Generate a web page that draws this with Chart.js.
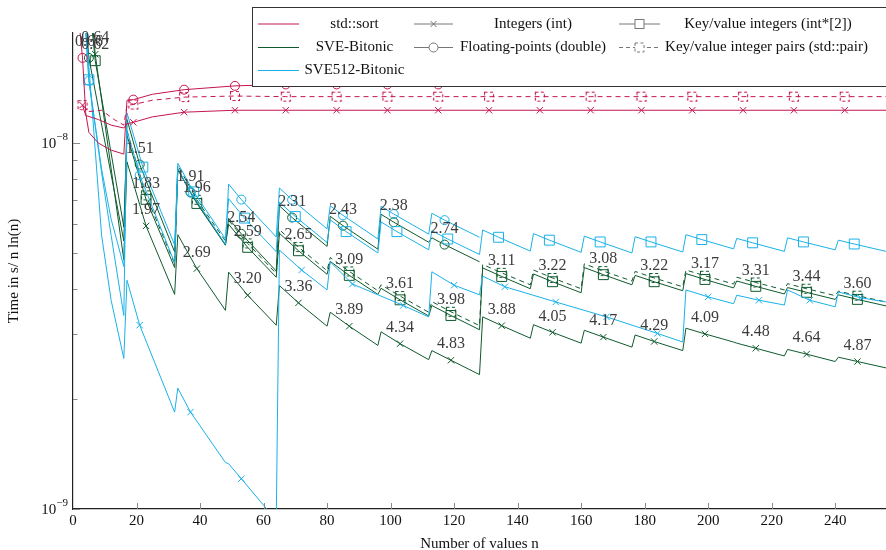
<!DOCTYPE html>
<html>
<head>
<meta charset="utf-8">
<script src="https://cdn.jsdelivr.net/npm/chart.js@4.4.1/dist/chart.umd.min.js"></script>
<style>
  html, body { margin: 0; padding: 0; background: #fff; }
  #wrap { width: 886px; height: 550px; }
</style>
</head>
<body>
<div id="wrap"><canvas id="chart" width="886" height="550"></canvas></div>
<script>
// times are in ns (1e-9 s) per n ln(n); points are [n, time]
const stdInt = [[3,12.7],[4,11.9],[8,11.6],[12,11.2],[16,11.0],[17,11.3],[19,11.4],[25,11.8],[35,12.15],[51,12.3],[67,12.3],[83,12.3],[99,12.3],[115,12.3],[131,12.3],[147,12.3],[163,12.3],[179,12.3],[195,12.3],[211,12.3],[227,12.3],[243,12.3],[256,12.3]];
const stdIntMarks = [3,19,35,51,67,83,99,115,131,147,163,179,195,211,227,243];

const stdDouble = [[2,21],[3,17.1],[4,12.1],[5,10.7],[8,10.0],[12,9.57],[16,9.33],[17,13.1],[19,13.15],[25,13.6],[35,14.0],[51,14.34],[67,14.47],[83,14.47],[99,14.47],[115,14.47],[128,14.47]];
const stdDoubleMarks = [3,19,35,51,67,83,99,115];

const stdPair = [[3,12.7],[5,12.2],[9,12.3],[13,11.6],[16,11.2],[17,12.7],[19,12.75],[25,13.1],[35,13.36],[51,13.45],[67,13.4],[83,13.4],[99,13.4],[115,13.4],[131,13.4],[147,13.4],[163,13.4],[179,13.4],[195,13.4],[211,13.4],[227,13.4],[243,13.4],[256,13.4]];
const stdPairMarks = [3,19,35,51,67,83,99,115,131,147,163,179,195,211,227,243];

const sveInt = [[6,22],[7,17.5],[16,4.8],
  [17,8.89],[23,5.94],[32,3.86],[33,5.62],[39,4.54],[48,3.49],
  [49,4.44],[55,3.84],[64,3.18],[65,4.08],[71,3.66],[80,3.16],
  [81,3.45],[87,3.16],[96,2.80],[97,3.05],[103,2.83],[112,2.56],
  [113,2.71],[119,2.55],[128,2.33],[129,3.35],[135,3.17],[144,2.93],
  [145,3.19],[151,3.04],[160,2.84],[161,3.08],[167,2.95],[176,2.77],
  [177,2.99],[183,2.87],[192,2.71],[193,3.12],[199,3.01],[208,2.86],
  [209,2.84],[215,2.75],[224,2.62],[225,2.73],[231,2.65],[240,2.53],
  [241,2.60],[247,2.53],[256,2.43]];
const sveIntMarks = [7,23,39,55,71,87,103,119,135,151,167,183,199,215,231,247];
const sveIntSpeedup = ['0.64','1.97','2.69','3.20','3.36','3.89','4.34','4.83','3.88','4.05','4.17','4.29','4.09','4.48','4.64','4.87'];

const sveDouble = [[4,22],[5,17.1],[16,5.4],
  [17,11.6],[21,8.74],[32,5.04],[33,8.49],[37,7.33],[48,5.27],
  [49,6.23],[53,5.65],[64,4.47],[65,6.74],[69,6.26],[80,5.22],
  [81,6.31],[85,5.95],[96,5.13],[97,6.39],[101,6.08],[112,5.36],
  [113,5.51],[117,5.28],[128,4.74]];
const sveDoubleMarks = [5,21,37,53,69,85,101,117];
const sveDoubleSpeedup = ['0.66','1.51','1.91','2.54','2.31','2.43','2.38','2.74'];

const sveKv = [[6,20.5],[7,16.8],[16,5.9],
  [17,10.5],[23,7.02],[32,4.57],[33,8.47],[39,6.84],[48,5.26],
  [49,6.0],[55,5.19],[64,4.30],[65,5.67],[71,5.08],[80,4.38],
  [81,4.75],[87,4.35],[96,3.86],[97,4.01],[103,3.73],[112,3.37],
  [113,3.60],[119,3.38],[128,3.09],[129,4.56],[135,4.32],[144,4.0],
  [145,4.39],[151,4.18],[160,3.90],[161,4.57],[167,4.37],[176,4.10],
  [177,4.35],[183,4.18],[192,3.95],[193,4.40],[199,4.24],[208,4.02],
  [209,4.20],[215,4.06],[224,3.87],[225,4.03],[231,3.91],[240,3.74],
  [241,3.85],[247,3.74],[256,3.59]];
const sveKvMarks = [7,23,39,55,71,87,103,119,135,151,167,183,199,215,231,247];
const sveKvSpeedup = ['0.62','1.83','1.96','2.59','2.65','3.09','3.61','3.98','3.11','3.22','3.08','3.22','3.17','3.31','3.44','3.60'];

const svePair = [[17,10.8],[23,7.2],[32,4.68],[33,8.7],[39,7.0],[48,5.4],
  [49,6.15],[55,5.32],[64,4.4],[65,5.8],[71,5.2],[80,4.48],
  [81,4.87],[87,4.46],[96,3.95],[97,4.1],[103,3.82],[112,3.45],
  [113,3.69],[119,3.46],[128,3.17],[129,4.66],[135,4.42],[144,4.1],
  [145,4.5],[151,4.28],[160,4.0],[161,4.68],[167,4.47],[176,4.2],
  [177,4.46],[183,4.28],[192,4.05],[193,4.5],[199,4.34],[208,4.12],
  [209,4.3],[215,4.16],[224,3.97],[225,4.13],[231,4.0],[240,3.83],
  [241,3.94],[247,3.83],[256,3.68]];
const svePairMarks = [23,39,55,71,87,103,119,135,151,167,183,199,215,231,247];

const sve512Int = [[4,21],[6,12.5],[9,5.6],[12,3.72],[16,2.58],
  [17,4.22],[21,3.18],[32,1.84],[33,2.14],[37,1.84],[48,1.34],
  [49,1.33],[53,1.21],[61,1.0],[64,0.93],[65,5.1],[72,4.5],[80,3.97],
  [81,4.74],[88,4.12],[104,3.6],[112,3.35],[113,4.45],[120,4.09],[128,3.85],
  [129,4.33],[136,4.05],[152,3.68],[168,3.35],[184,3.02],[192,2.86],
  [193,3.97],[200,3.80],[208,3.64],[209,3.84],[216,3.72],[224,3.61],
  [225,3.97],[232,3.72],[240,3.57],[241,3.92],[248,3.78],[256,3.68]];
const sve512IntMarks = [21,37,53,72,88,104,120,136,152,168,184,200,216,232,248];

const sve512Double = [[4,21],[5,14.8],[9,8.5],[12,6.2],[16,4.6],
  [17,10.84],[21,8.17],[32,4.71],[33,8.52],[37,7.36],[48,5.29],
  [49,7.73],[53,7.01],[64,5.54],[65,7.54],[69,7.0],[80,5.83],
  [81,6.74],[85,6.35],[96,5.47],[97,6.72],[101,6.4],[112,5.64],
  [113,6.43],[117,6.16],[128,5.53]];
const sve512DoubleMarks = [5,21,37,53,69,85,101,117];

const sve512Kv = [[4,20],[5,14.9],[9,8.3],[12,5.6],[16,3.38],
  [17,12.1],[22,8.6],[32,5.27],[33,8.81],[38,7.36],[48,5.47],
  [49,7.05],[54,6.24],[64,5.05],[65,6.9],[70,6.3],[80,5.35],
  [81,6.17],[86,5.73],[96,5.01],[97,6.09],[102,5.73],[112,5.11],
  [113,5.76],[118,5.47],[128,4.96],[129,5.79],[134,5.53],[144,5.07],
  [145,5.66],[150,5.43],[160,5.03],[161,5.57],[166,5.37],[176,5.01],
  [177,5.55],[182,5.37],[192,5.04],[193,5.62],[198,5.45],[208,5.14],
  [209,5.49],[214,5.34],[224,5.06],[225,5.51],[230,5.37],[240,5.11],
  [241,5.43],[246,5.30],[256,5.06]];
const sve512KvMarks = [5,22,38,54,70,86,102,118,134,150,166,182,198,214,230,246];

const xTicks = [0,20,40,60,80,100,120,140,160,180,200,220,240];
const algoNames = ['std::sort', 'SVE-Bitonic', 'SVE512-Bitonic'];
const typeNames = ['Integers (int)', 'Floating-points (double)', 'Key/value integers (int*[2])', 'Key/value integer pairs (std::pair)'];

const CRIMSON = '#c4154f';
const GREEN = '#0f5a2d';
const CYAN = '#1ab1e8';
const FONT = "'Liberation Serif', 'DejaVu Serif', serif";

function dashedSquare(color) {
  const cv = document.createElement('canvas');
  cv.width = 14; cv.height = 14;
  const c = cv.getContext('2d');
  c.strokeStyle = color;
  c.lineWidth = 1.1;
  c.setLineDash([3, 2.5]);
  c.strokeRect(2.5, 2.5, 9, 9);
  return cv;
}

const STYLES = {
  int: { pointStyle: 'crossRot', radius: 4.5 },
  double: { pointStyle: 'circle', radius: 4.5 },
  kv: { pointStyle: 'rect', radius: 7 },
};

function series(label, pts, color, kind, marks, extra) {
  const st = kind === 'pair' ? { pointStyle: dashedSquare(color), radius: 7 } : STYLES[kind];
  return Object.assign({
    label: label,
    data: pts.map(p => ({ x: p[0], y: p[1] })),
    borderColor: color,
    borderWidth: 1,
    pointStyle: st.pointStyle,
    pointRadius: ctx => (ctx.raw && marks.includes(ctx.raw.x)) ? st.radius : 0,
    pointHoverRadius: 0,
    pointBorderColor: color,
    pointBackgroundColor: 'rgba(0,0,0,0)',
    pointBorderWidth: 1,
    borderDash: kind === 'pair' ? [5, 4] : [],
    fill: false,
    tension: 0,
    marks: marks
  }, extra || {});
}

const datasets = [
  series('std::sort int', stdInt, CRIMSON, 'int', stdIntMarks),
  series('std::sort double', stdDouble, CRIMSON, 'double', stdDoubleMarks),
  series('std::sort pair', stdPair, CRIMSON, 'pair', stdPairMarks),
  series('SVE512 int', sve512Int, CYAN, 'int', sve512IntMarks),
  series('SVE512 double', sve512Double, CYAN, 'double', sve512DoubleMarks),
  series('SVE512 int*[2]', sve512Kv, CYAN, 'kv', sve512KvMarks),
  series('SVE pair', svePair, GREEN, 'pair', svePairMarks),
  series('SVE int', sveInt, GREEN, 'int', sveIntMarks, { speedups: sveIntSpeedup }),
  series('SVE double', sveDouble, GREEN, 'double', sveDoubleMarks, { speedups: sveDoubleSpeedup }),
  series('SVE int*[2]', sveKv, GREEN, 'kv', sveKvMarks, { speedups: sveKvSpeedup }),
];

const speedupLabels = {
  id: 'speedupLabels',
  afterDatasetsDraw(chart) {
    const c = chart.ctx;
    c.save();
    c.font = '16px ' + FONT;
    c.fillStyle = '#3c3c3c';
    c.textAlign = 'center';
    c.textBaseline = 'middle';
    chart.data.datasets.forEach((ds, i) => {
      if (!ds.speedups) return;
      const meta = chart.getDatasetMeta(i);
      ds.marks.forEach((m, k) => {
        const idx = ds.data.findIndex(p => p.x === m);
        if (idx < 0 || !ds.speedups[k]) return;
        const el = meta.data[idx];
        c.fillText(ds.speedups[k], el.x, el.y - 16);
      });
    });
    c.restore();
  }
};

const axisDecor = {
  id: 'axisDecor',
  afterDraw(chart) {
    const c = chart.ctx;
    const xs = chart.scales.x, ys = chart.scales.y;
    const a = chart.chartArea;
    c.save();
    c.strokeStyle = '#8a8a8a';
    c.lineWidth = 1;
    xTicks.forEach(v => {
      if (v === 0) return;
      const px = Math.round(xs.getPixelForValue(v)) + 0.5;
      c.beginPath(); c.moveTo(px, a.bottom); c.lineTo(px, a.bottom - 6); c.stroke();
    });
    [1,2,3,4,5,6,7,8,9,10].forEach(v => {
      const py = Math.round(ys.getPixelForValue(v)) + 0.5;
      const len = (v === 1 || v === 10) ? 7 : 4.5;
      c.beginPath(); c.moveTo(a.left, py); c.lineTo(a.left + len, py); c.stroke();
    });
    // y tick labels 10^-8, 10^-9
    c.fillStyle = '#111';
    c.textBaseline = 'middle';
    [[10, '\u22128'], [1, '\u22129']].forEach(([v, ex]) => {
      const py = ys.getPixelForValue(v);
      c.font = '11px ' + FONT;
      const ew = c.measureText(ex).width;
      c.textAlign = 'right';
      c.fillText(ex, 68, py - 6);
      c.font = '15px ' + FONT;
      c.fillText('10', 68 - ew, py + 1);
    });
    c.restore();
  }
};

const boxLegend = {
  id: 'boxLegend',
  afterDraw(chart) {
    const c = chart.ctx;
    c.save();
    c.fillStyle = '#fff';
    c.fillRect(252, 7, 640, 79);
    c.strokeStyle = '#333';
    c.lineWidth = 1;
    c.strokeRect(252.5, 7.5, 640, 79);
    const rows = [24, 47.5, 70.5];
    const algoColors = [CRIMSON, GREEN, CYAN];
    c.font = '15px ' + FONT;
    c.textAlign = 'center';
    c.textBaseline = 'middle';
    rows.forEach((y, r) => {
      c.strokeStyle = algoColors[r];
      c.lineWidth = 1.2;
      c.beginPath(); c.moveTo(258, y); c.lineTo(299, y); c.stroke();
      c.fillStyle = '#111';
      c.fillText(algoNames[r], 354.5, y);
    });
    const grey = '#777';
    c.strokeStyle = grey;
    c.lineWidth = 1;
    // integers: cross
    c.beginPath(); c.moveTo(414, rows[0]); c.lineTo(453, rows[0]); c.stroke();
    c.beginPath();
    c.moveTo(430.5, rows[0] - 3); c.lineTo(436.5, rows[0] + 3);
    c.moveTo(430.5, rows[0] + 3); c.lineTo(436.5, rows[0] - 3); c.stroke();
    c.fillText(typeNames[0], 533, rows[0]);
    // double: circle
    c.beginPath(); c.moveTo(414, rows[1]); c.lineTo(429, rows[1]); c.moveTo(438, rows[1]); c.lineTo(453, rows[1]); c.stroke();
    c.beginPath(); c.arc(433.5, rows[1], 4.5, 0, Math.PI * 2); c.stroke();
    c.fillText(typeNames[1], 533, rows[1]);
    // int*[2]: square
    c.beginPath(); c.moveTo(619, rows[0]); c.lineTo(660, rows[0]); c.stroke();
    c.fillStyle = '#fff';
    c.fillRect(635, rows[0] - 4.5, 9, 9);
    c.strokeRect(635, rows[0] - 4.5, 9, 9);
    c.fillStyle = '#111';
    c.fillText(typeNames[2], 768, rows[0]);
    // pair: dashed line + dashed square
    c.setLineDash([4, 3]);
    c.beginPath(); c.moveTo(619, rows[1]); c.lineTo(660, rows[1]); c.stroke();
    c.setLineDash([3, 2.5]);
    c.fillStyle = '#fff';
    c.fillRect(635, rows[1] - 4.5, 9, 9);
    c.strokeRect(635, rows[1] - 4.5, 9, 9);
    c.setLineDash([]);
    c.fillStyle = '#111';
    c.fillText(typeNames[3], 766.5, rows[1]);
    c.restore();
  }
};

Chart.defaults.font.family = FONT;
Chart.defaults.color = '#111';

new Chart(document.getElementById('chart'), {
  type: 'line',
  data: { datasets: datasets },
  options: {
    responsive: false,
    animation: false,
    devicePixelRatio: 1,
    layout: { autoPadding: false, padding: { top: 33, right: 0, left: 0, bottom: 0 } },
    plugins: { legend: { display: false }, tooltip: { enabled: false } },
    scales: {
      x: {
        type: 'linear', min: 0, max: 256,
        grid: { display: false, drawTicks: false },
        border: { display: true, color: '#222', width: 1.2 },
        ticks: {
          stepSize: 20, includeBounds: false, maxRotation: 0, padding: 3,
          font: { size: 15, family: FONT }, color: '#111'
        },
        title: {
          display: true, text: 'Number of values n',
          font: { size: 15, family: FONT }, color: '#111',
          padding: { top: 0, bottom: -3 }
        },
        afterFit(s) { s.height = 41; s.paddingLeft = 0; s.paddingRight = 0; }
      },
      y: {
        type: 'logarithmic', min: 1, max: 20,
        grid: { display: false, drawTicks: false },
        border: { display: true, color: '#222', width: 1.2 },
        ticks: { display: false },
        title: {
          display: true, text: 'Time in s/ n ln(n)',
          font: { size: 15, family: FONT }, color: '#111',
          padding: { top: 5, bottom: 0 }
        },
        afterFit(s) { s.width = 73; s.paddingTop = 0; s.paddingBottom = 0; }
      }
    }
  },
  plugins: [speedupLabels, axisDecor, boxLegend]
});
</script>
</body>
</html>
